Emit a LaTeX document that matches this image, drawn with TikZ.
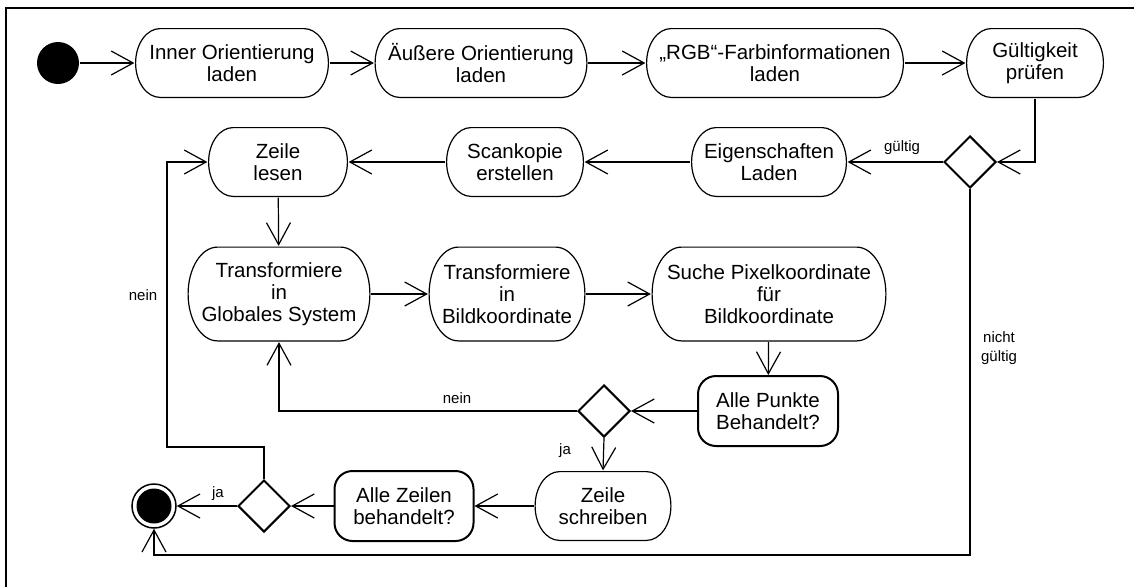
\documentclass[tikz,border=0pt]{standalone}
\usepackage{fontspec}
\setmainfont{Liberation Sans}
\usetikzlibrary{arrows.meta,shapes.geometric}

\tikzset{
  aktrand/.style 2 args={path picture={
    \draw[line width=1.2pt]([xshift=#1,yshift=-.6pt]path picture bounding box.north west)
      --([xshift=-#1,yshift=-.6pt]path picture bounding box.north east)
      arc[start angle=90,end angle=-90,x radius=#1-.6pt,y radius=#2-.6pt]
      --([xshift=#1,yshift=.6pt]path picture bounding box.south west)
      arc[start angle=270,end angle=90,x radius=#1-.6pt,y radius=#2-.6pt]--cycle;}},
  act/.style={rectangle, aktrand={25pt}{35pt}, align=center, inner sep=0pt,
    minimum height=70pt, font=\fontsize{20.5}{22}\selectfont},
  acthoch/.style={act, aktrand={30pt}{47.5pt}, minimum height=95pt},
  frage/.style={draw, line width=2pt, rounded corners=18pt, align=center, inner sep=0pt,
    minimum height=70pt, font=\fontsize{20.5}{22}\selectfont},
  raute/.style={draw, diamond, line width=2pt, minimum width=52pt, minimum height=52pt, inner sep=0pt},
  lbl/.style={font=\fontsize{15}{19}\selectfont, align=center, inner sep=1pt},
}

\begin{document}
\begin{tikzpicture}[>={Straight Barb[length=22pt,width=24pt]}, x=1pt, y=-1pt, line width=1.2pt]
\useasboundingbox (0,0) rectangle (1134,587);
\draw[line width=2pt](6,587)--(6,8)--(1134,8);

% erste Reihe
\node[circle, fill, minimum size=42pt, inner sep=0pt](start) at (58,63) {};
\node[act, minimum width=194pt](inner) at (232,63) {Inner Orientierung\\laden};
\node[act, minimum width=213pt](aeussere) at (481,63) {Äußere Orientierung\\laden};
\node[act, minimum width=258pt](rgb) at (775,63) {„RGB“-Farbinformationen\\laden};
\node[act, minimum width=138pt](guelt) at (1035,63) {Gültigkeit\\prüfen};

% zweite Reihe
\node[raute](d1) at (970,162) {};
\node[act, minimum width=156pt](eigen) at (769,162) {Eigenschaften\\Laden};
\node[act, minimum width=138pt](scan) at (515,162) {Scankopie\\erstellen};
\node[act, minimum width=140pt](zeile) at (278,162) {Zeile\\lesen};

% dritte Reihe
\node[acthoch, minimum width=183pt](glob) at (279,294) {Transformiere\\in\\Globales System};
\node[acthoch, minimum width=157pt](bild) at (507,294) {Transformiere\\in\\Bildkoordinate};
\node[acthoch, minimum width=235pt](suche) at (769,294) {Suche Pixelkoordinate\\für\\Bildkoordinate};

\node[frage, minimum width=140pt](punkte) at (768,411) {Alle Punkte\\Behandelt?};
\node[raute](d2) at (604,411) {};

% unterste Reihe
\node[act, minimum width=137pt](schreiben) at (603,506) {Zeile\\schreiben};
\node[frage, minimum width=139pt](zeilen) at (404,506) {Alle Zeilen\\behandelt?};
\node[raute](d3) at (264,506) {};
\node[circle, draw, line width=1.5pt, minimum size=44pt, inner sep=0pt,
  path picture={\fill (path picture bounding box.center) circle (17.5pt);}](ende) at (154,506) {};

\coordinate(k1) at (167,447);
\coordinate(k2) at (154,555);

\draw[->](start)--(inner);
\draw[->](inner)--(aeussere);
\draw[->](aeussere)--(rgb);
\draw[->](rgb)--(guelt);
\draw[->](guelt.south)|-(d1.east);
\draw[->](d1.west)--(eigen.east);
\draw[->](eigen)--(scan);
\draw[->](scan)--(zeile);
\draw[->](zeile)--(glob);
\draw[->](glob)--(bild);
\draw[->](bild)--(suche);
\draw[->](suche)--(punkte);
\draw[->](punkte.west)--(d2.east);
\draw[->](d2.west)-|(glob.south);
\draw[->](d2.south)--(schreiben.north);
\draw[->](schreiben)--(zeilen);
\draw[->](zeilen.west)--(d3.east);
\draw[->](d3.west)--(ende.east);
\draw[->](d3.north)|-(k1)|-(zeile.west);
\draw[->](d1.south)|-(k2)--(ende.south);

\node[lbl](lgueltig) at (902,148) {gültig};
\node[lbl](lnein1) at (143,295) {nein};
\node[lbl](lnein2) at (457,398) {nein};
\node[lbl](lja1) at (565,451) {ja};
\node[lbl](lja2) at (218,494) {ja};
\node[lbl](lnicht) at (999,348) {nicht\\gültig};
\end{tikzpicture}
\end{document}
